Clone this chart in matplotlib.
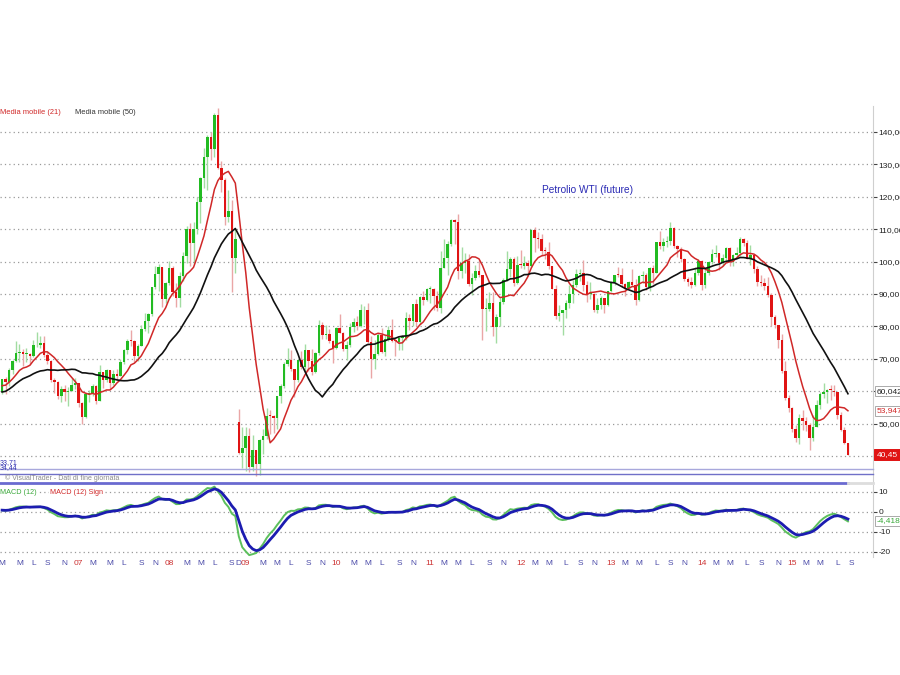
import numpy as np
import pandas as pd
import matplotlib
matplotlib.use('Agg')
import matplotlib.pyplot as plt
from matplotlib.lines import Line2D
import matplotlib.transforms as mtrans

plt.rcParams['font.family'] = ['Liberation Sans Narrow', 'Liberation Sans', 'DejaVu Sans']

# WTI future, bi-weekly bars (mar 2006 - aug 2015)
# closes before the first bar shown, only to warm up the averages
warmup_close = [56.7, 57.3, 50.5, 49.7, 48.7, 51.9, 53.5, 59.8, 59.6, 58.7, 62.3, 65.4, 67.6,
                63.0, 66.2, 62.6, 61.1, 57.8, 58.7, 59.4, 58.4, 64.2, 68.4, 65.4, 59.9]

opens = [
    59.9, 63.7, 62.7, 66.6, 69.3, 71.9, 72.0, 71.4, 71.6, 70.9, 74.1, 74.4, 74.8, 71.1, 69.2, 63.3, 62.9, 58.6, 60.8, 59.6, 60.2, 62.0,
    62.4, 56.3, 52.0, 59.0, 59.4, 61.6, 57.1, 65.9, 63.6, 66.5, 62.4, 65.2, 64.8, 68.9, 72.8, 75.6, 75.5, 71.0, 74.0, 79.1, 81.7, 83.7, 92.0, 96.3, 98.2, 88.3,
    93.3, 97.9, 90.6, 88.9, 95.5, 101.8, 110.2, 105.6, 110.1, 118.5, 125.9, 132.2, 138.5, 134.6, 145.3, 128.9, 125.1, 113.8, 115.5, 101.2, 50.5, 40.8,
    42.4, 46.3, 36.5, 41.7, 37.5, 44.8, 46.3, 52.4, 52.2, 51.6, 58.6, 61.7, 68.4, 69.6, 66.7, 63.6, 69.5, 67.5, 72.7, 69.3, 66.0, 71.8, 80.5, 77.4, 77.5, 75.5,
    73.4, 79.4, 78.0, 72.9, 74.1, 79.7, 81.2, 80.0, 84.9, 85.1, 75.1, 70.0, 71.5, 77.2, 72.1, 76.0, 78.9, 75.4, 75.2, 76.5, 76.5, 82.7, 81.7, 86.9, 81.5, 89.2, 88.0,
    91.4, 91.5, 89.3, 85.6, 98.0, 101.2, 105.4, 112.8, 112.3, 97.2, 99.5, 100.2, 93.0, 95.0, 97.2, 95.7, 85.4, 85.4, 87.2, 79.9, 82.9, 87.4, 94.3, 97.7, 100.9, 93.5,
    98.8, 98.7, 99.6, 98.7, 109.8, 107.4, 106.9, 103.3, 103.1, 98.5, 91.5, 83.2, 84.0, 84.9, 87.1, 90.1, 92.9, 96.2, 96.4, 92.9, 89.9, 90.1, 84.9, 86.7, 88.9, 86.7,
    90.8, 93.6, 95.9, 95.7, 93.1, 91.9, 93.7, 92.7, 88.0, 95.6, 96.0, 92.0, 97.9, 96.6, 105.9, 104.7, 106.0, 106.4, 110.5, 104.7, 103.8, 100.8, 94.6, 93.8, 92.7, 96.6,
    100.3, 92.7, 96.6, 99.9, 102.2, 102.6, 99.5, 101.1, 104.3, 99.8, 102.0, 102.7, 106.9, 105.7, 100.8, 102.1, 97.7, 93.7, 93.3, 92.4, 89.7, 82.8, 80.5, 75.8, 66.2, 57.8,
    54.7, 48.4, 45.6, 51.7, 50.8, 49.6, 45.7, 49.1, 55.7, 59.2, 59.7, 60.3, 60.0, 59.6, 52.7, 48.1, 43.9]

highs = [
    63.9, 64.3, 67.3, 69.6, 75.4, 74.5, 72.9, 73.2, 71.9, 75.8, 78.4, 77.0, 77.1, 72.2, 69.5, 64.2, 63.2, 61.5, 61.9, 61.2, 64.2, 64.0,
    62.5, 56.8, 59.3, 60.4, 62.3, 62.0, 68.1, 66.0, 67.0, 66.6, 66.5, 67.0, 69.8, 73.1, 76.0, 78.8, 75.9, 74.5, 80.4, 84.1, 84.1, 92.2, 98.6, 99.3, 98.4, 93.6,
    100.1, 98.5, 93.3, 96.7, 103.1, 111.0, 111.8, 112.2, 119.9, 126.2, 135.1, 139.1, 139.9, 145.9, 147.3, 131.1, 125.8, 122.0, 119.0, 110.0, 54.5, 49.0,
    49.0, 48.6, 46.4, 42.0, 45.3, 48.3, 54.7, 54.1, 52.5, 58.6, 62.3, 69.0, 73.2, 72.7, 66.9, 69.9, 72.4, 74.7, 72.7, 72.9, 72.0, 82.0, 81.4, 80.5, 79.1, 75.9,
    79.9, 83.9, 78.4, 75.5, 81.0, 82.5, 83.3, 87.0, 86.3, 87.2, 77.0, 75.7, 78.0, 79.5, 77.4, 80.0, 82.4, 76.2, 76.7, 77.3, 84.4, 83.8, 87.0, 88.6, 89.4, 90.8, 91.9,
    92.6, 91.8, 90.9, 103.4, 106.9, 106.2, 113.0, 113.0, 114.8, 104.6, 102.6, 102.4, 96.5, 99.0, 100.6, 96.0, 88.8, 90.5, 90.5, 83.9, 89.2, 95.0, 103.4, 101.3, 101.3, 101.8,
    103.7, 101.6, 100.4, 110.0, 110.6, 109.2, 108.4, 104.4, 106.1, 98.5, 92.8, 86.6, 85.1, 88.0, 92.9, 94.3, 97.8, 97.6, 100.4, 93.9, 93.7, 90.4, 88.7, 89.4, 88.9, 91.0,
    94.0, 96.0, 98.2, 98.0, 93.3, 94.0, 97.8, 94.5, 96.0, 97.0, 96.6, 98.3, 99.0, 106.0, 109.3, 107.4, 108.0, 112.2, 110.7, 105.1, 104.5, 101.0, 95.3, 95.1, 98.3, 100.8,
    100.5, 97.8, 100.2, 104.0, 105.2, 102.7, 102.2, 104.5, 104.5, 102.3, 104.5, 107.7, 107.4, 106.6, 105.0, 102.2, 98.6, 96.0, 95.0, 95.2, 90.3, 83.6, 80.5, 77.8, 69.4, 58.7,
    55.1, 49.6, 53.0, 54.2, 52.0, 50.1, 52.5, 57.4, 59.9, 62.6, 60.6, 61.9, 61.8, 59.7, 53.5, 49.0, 44.0]

lows = [
    59.2, 59.0, 61.7, 65.2, 69.0, 69.1, 67.9, 68.9, 68.4, 70.5, 73.5, 73.2, 70.4, 68.4, 62.7, 59.5, 57.5, 56.7, 57.0, 55.4, 60.0, 60.6,
    55.1, 49.9, 51.8, 56.6, 58.5, 56.0, 57.0, 60.9, 62.8, 60.6, 61.9, 63.4, 64.6, 68.3, 71.4, 74.0, 69.0, 69.3, 73.8, 78.6, 78.0, 83.2, 91.5, 91.0, 85.9, 87.3,
    92.9, 89.4, 86.1, 86.1, 94.0, 99.6, 98.7, 99.6, 108.6, 111.9, 122.7, 122.2, 131.2, 132.3, 128.5, 121.6, 111.3, 112.2, 90.5, 96.5, 40.5, 36.2,
    35.4, 35.0, 35.5, 33.9, 34.0, 40.7, 45.4, 46.8, 47.1, 48.3, 56.5, 61.0, 67.9, 66.3, 58.3, 62.7, 66.9, 65.9, 66.3, 65.0, 65.6, 71.3, 76.0, 76.2, 75.0, 68.6,
    73.0, 78.0, 72.4, 69.5, 73.6, 78.3, 79.0, 79.9, 80.6, 75.0, 64.2, 67.0, 71.3, 71.7, 71.0, 75.4, 75.2, 70.8, 72.6, 72.8, 75.7, 79.0, 80.2, 80.2, 80.7, 86.5, 87.7,
    87.1, 84.9, 84.6, 84.2, 98.0, 96.0, 104.9, 105.4, 94.6, 95.0, 96.4, 92.4, 89.6, 94.3, 95.2, 75.7, 78.5, 84.8, 77.1, 74.9, 80.0, 87.0, 94.0, 95.3, 92.5, 93.2,
    98.0, 97.8, 95.4, 98.3, 102.9, 104.1, 102.1, 100.7, 97.8, 91.4, 82.2, 81.6, 77.3, 82.5, 85.8, 87.3, 92.0, 93.9, 90.9, 87.4, 88.5, 84.4, 84.1, 85.3, 84.0, 86.3,
    90.5, 92.8, 95.2, 92.0, 89.3, 91.5, 92.4, 86.7, 87.8, 93.4, 91.2, 91.0, 93.0, 96.4, 103.9, 103.2, 104.5, 105.0, 104.1, 101.3, 99.8, 94.0, 92.5, 91.8, 92.4, 96.0,
    91.2, 91.8, 96.0, 99.2, 101.5, 97.4, 98.6, 100.5, 98.6, 98.6, 101.2, 101.6, 104.7, 100.7, 99.0, 96.5, 92.5, 92.5, 91.2, 89.2, 80.0, 79.4, 73.3, 65.7, 57.3, 53.6,
    47.4, 44.2, 43.6, 48.1, 47.8, 42.0, 44.7, 49.0, 54.5, 58.0, 56.5, 57.3, 58.6, 51.4, 47.7, 43.6, 40.2]

closes = [
    63.7, 62.7, 66.6, 69.3, 71.9, 72.0, 71.4, 71.6, 70.9, 74.1, 74.4, 74.8, 71.1, 69.2, 63.3, 62.9, 58.6, 60.8, 59.6, 60.2, 62.0, 62.4,
    56.3, 52.0, 59.0, 59.4, 61.6, 57.1, 65.9, 63.6, 66.5, 62.4, 65.2, 64.8, 68.9, 72.8, 75.6, 75.5, 71.0, 74.0, 79.1, 81.7, 83.7, 92.0, 96.3, 98.2, 88.3, 93.3,
    97.9, 90.6, 88.9, 95.5, 101.8, 110.2, 105.6, 110.1, 118.5, 125.9, 132.2, 138.5, 134.6, 145.3, 128.9, 125.1, 113.8, 115.5, 101.2, 106.9, 40.8, 42.4,
    46.3, 36.5, 41.7, 37.5, 44.8, 46.3, 52.4, 52.2, 51.6, 58.6, 61.7, 68.4, 69.6, 66.7, 63.6, 69.5, 67.5, 72.7, 69.3, 66.0, 71.8, 80.5, 77.4, 77.5, 75.5, 73.4,
    79.4, 78.0, 72.9, 74.1, 79.7, 81.2, 80.0, 84.9, 85.1, 75.1, 70.0, 71.5, 77.2, 72.1, 76.0, 78.9, 75.4, 75.2, 76.5, 76.5, 82.7, 81.7, 86.9, 81.5, 89.2, 88.0, 91.4,
    91.5, 89.3, 85.6, 98.0, 101.2, 105.4, 112.8, 112.3, 97.2, 99.5, 100.2, 93.0, 95.0, 97.2, 95.7, 85.4, 85.4, 87.2, 79.9, 82.9, 87.4, 94.3, 97.7, 100.9, 93.5, 98.8,
    98.7, 99.6, 98.7, 109.8, 107.4, 106.9, 103.3, 103.1, 98.5, 91.5, 83.2, 84.0, 84.9, 87.1, 90.1, 92.9, 96.2, 96.4, 92.9, 89.9, 90.1, 84.9, 86.7, 88.9, 86.7, 90.8,
    93.6, 95.9, 95.7, 93.1, 91.9, 93.7, 92.7, 88.0, 95.6, 96.0, 92.0, 97.9, 96.6, 105.9, 104.7, 106.0, 106.4, 110.5, 104.7, 103.8, 100.8, 94.6, 93.8, 92.7, 96.6, 100.3,
    92.7, 96.6, 99.9, 102.2, 102.6, 99.5, 101.1, 104.3, 99.8, 102.0, 102.7, 106.9, 105.7, 100.8, 102.1, 97.7, 93.7, 93.3, 92.4, 89.7, 82.8, 80.5, 75.8, 66.2, 57.8, 54.7,
    48.4, 45.6, 51.7, 50.8, 49.6, 45.7, 49.1, 55.7, 59.2, 59.7, 60.3, 60.0, 59.6, 52.7, 48.1, 43.9, 40.45]

# values printed in the boxes on the right
tag_ma50 = 60.042
tag_ma21 = 53.947
tag_last = 40.45
tag_macd = -4.4189
support = [33.71, 34.44]

# bars every two weeks; the feed has nothing from mid oct to late nov 2008
dates = pd.date_range('2006-03-03', '2015-08-21', freq='14D')
dates = dates[~((dates > '2008-10-01') & (dates < '2008-12-01'))]
# the time axis runs one slot past the last bar
axis_dates = dates.append(pd.DatetimeIndex([dates[-1] + pd.Timedelta(days=14)]))

o = np.array(opens); h = np.array(highs); l = np.array(lows); c = np.array(closes)
x = np.arange(len(c))
nw = len(warmup_close)

s = pd.Series(warmup_close + closes)
ma21 = s.rolling(10).mean().values[nw:]   # ~21 weeks
ma50 = s.rolling(25).mean().values[nw:]   # ~50 weeks
macd = s.ewm(span=6, adjust=False).mean() - s.ewm(span=13, adjust=False).mean()
sig = macd.ewm(span=4, adjust=False).mean()
macd = macd.values[nw:]
sig = sig.values[nw:]

W, H = 900, 675
fig = plt.figure(figsize=(9, 6.75), dpi=100)
ax = fig.add_axes([0, 1 - 483 / H, 873 / W, (483 - 106) / H])
ax2 = fig.add_axes([0, 1 - 557 / H, 873 / W, (557 - 485) / H], sharex=ax)

# candles
up = c >= o
ax.vlines(x, l, h, colors=np.where(up, '#a2dca2', '#eaa6a6'), lw=1, zorder=2)
body = np.where(np.abs(c - o) < 0.3, 0.3, c - o)
ax.bar(x, body, bottom=o, width=0.72, color=np.where(up, '#22bb22', '#e01414'),
       lw=0, zorder=3)
ax.plot(x, ma21, color='#d02828', lw=1.1, zorder=4)
ax.plot(x, ma50, color='#111111', lw=1.2, zorder=4)

ax.set_xlim(-0.6, 250.2)
ax.set_ylim(31.67, 148.0)
yt = np.arange(40, 141, 10)
ax.set_yticks(yt)
# 40 and 60 sit under the value boxes
ax.set_yticklabels(['' if v in (40, 60) else f'{v:.2f}'.replace('.', ',') for v in yt])
ax.yaxis.tick_right()
ax.tick_params(axis='y', direction='out', length=3, width=0.8, color='#444444',
               labelsize=6, pad=1, labelcolor='#222222')
ax.tick_params(axis='x', length=0, labelbottom=False)
ax.grid(axis='y', ls=(0, (1, 2.5)), color='#9a9a9a', lw=0.9)
for sp in ['top', 'left', 'bottom']:
    ax.spines[sp].set_visible(False)
ax.spines['right'].set_color('#cfcfcf')

# boxes on the right axis
tr = mtrans.blended_transform_factory(ax.transAxes, ax.transData)
ax.text(1.004, tag_ma50, f'{tag_ma50:.3f}'.replace('.', ','), transform=tr, fontsize=6,
        va='center', color='#222222', bbox=dict(fc='white', ec='#aaaaaa', lw=0.7, pad=1), clip_on=False)
ax.text(1.004, tag_ma21, f'{tag_ma21:.3f}'.replace('.', ','), transform=tr, fontsize=6,
        va='center', color='#d02828', bbox=dict(fc='white', ec='#aaaaaa', lw=0.7, pad=1), clip_on=False)
ax.text(1.004, tag_last, f'{tag_last:.2f}'.replace('.', ','), transform=tr, fontsize=6,
        va='center', color='white', bbox=dict(fc='#e01414', ec='#e01414', lw=0.7, pad=1.5), clip_on=False)

# macd panel
ax2.plot(x, macd, color='#5cc05c', lw=1.4, zorder=3)
ax2.plot(x, sig, color='#1c1cb0', lw=2.0, zorder=4)
ax2.set_ylim(-22.5, 13.5)
ax2.set_yticks([10, 0, -10, -20])
ax2.set_yticklabels(['10', '0', '-10', '-20'])
ax2.yaxis.tick_right()
ax2.tick_params(axis='y', direction='out', length=3, width=0.8, color='#444444',
                labelsize=6, pad=1, labelcolor='#222222')
ax2.grid(axis='y', ls=(0, (1, 2.5)), color='#9a9a9a', lw=0.9)
for sp in ['top', 'left', 'bottom']:
    ax2.spines[sp].set_visible(False)
ax2.spines['right'].set_color('#cfcfcf')
tr2 = mtrans.blended_transform_factory(ax2.transAxes, ax2.transData)
ax2.text(1.004, tag_macd, f'{tag_macd:.4f}'.replace('.', ','), transform=tr2, fontsize=6,
         va='center', color='#3aa83a', bbox=dict(fc='white', ec='#aaaaaa', lw=0.7, pad=1), clip_on=False)

# month labels: year on january, then every other month
letters = {1: '', 3: 'M', 5: 'M', 7: 'L', 9: 'S', 11: 'N', 12: 'D'}
have = set(zip(axis_dates.year, axis_dates.month))
pos, labs, cols = [], [], []
seen = set()
for i, d in enumerate(axis_dates):
    key = (d.year, d.month)
    if key in seen:
        continue
    seen.add(key)
    m = d.month
    if m % 2 == 1 or (m == 12 and (d.year, 11) not in have):
        pos.append(i)
        if m == 1:
            labs.append(f'{d.year % 100:02d}')
            cols.append('#cc3333')
        else:
            labs.append(letters[m])
            cols.append('#4a4aa8')
ax2.set_xticks(pos)
ax2.set_xticklabels(labs)
ax2.tick_params(axis='x', length=0, labelsize=6, pad=2)
for t, col in zip(ax2.get_xticklabels(), cols):
    t.set_color(col)

# separator band with the data source note
def hline(y, x0, x1, col, lw):
    fig.add_artist(Line2D([x0 / W, x1 / W], [1 - y / H, 1 - y / H], color=col, lw=lw))

hline(469, 0, 873, '#a8a8dc', 1.0)
hline(473.5, 0, 873, '#7070c8', 1.0)
hline(482.5, 0, 848, '#6a6ad0', 2.0)
hline(482.5, 848, 873, '#dddddd', 2.0)
fig.text(0.0, 1 - 463 / H, f'{support[0]:.2f}'.replace('.', ','), fontsize=5, color='#3030b0', va='center')
fig.text(0.0, 1 - 468 / H, f'{support[1]:.2f}'.replace('.', ','), fontsize=5, color='#3030b0', va='center')
fig.text(5 / W, 1 - 478 / H, '© VisualTrader - Dati di fine giornata', fontsize=5, color='#8a8a8a', va='center')

# legends and title
fig.text(0.0, 1 - 112 / H, 'Media mobile (21)', fontsize=5.4, color='#d02828', va='center')
fig.text(75 / W, 1 - 112 / H, 'Media mobile (50)', fontsize=5.4, color='#333333', va='center')
fig.text(0.0, 1 - 492 / H, 'MACD (12)', fontsize=5.2, color='#3aa83a', va='center',
         bbox=dict(fc='white', ec='none', pad=0.5))
fig.text(50 / W, 1 - 492 / H, 'MACD (12) Sign', fontsize=5.2, color='#d02828', va='center',
         bbox=dict(fc='white', ec='none', pad=0.5))
fig.text(588 / W, 1 - 190 / H, 'Petrolio WTI (future)', fontsize=7.3, color='#2a2ab4',
         ha='center', va='center')

fig.savefig('out.png', dpi=100)
